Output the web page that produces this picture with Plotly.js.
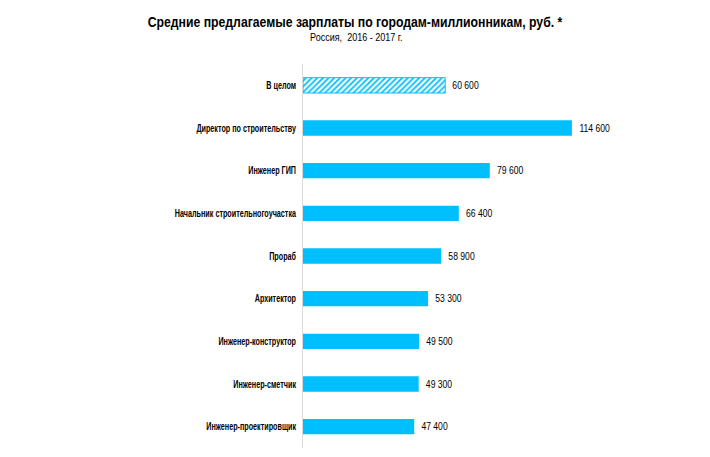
<!DOCTYPE html>
<html><head><meta charset="utf-8">
<script src="https://cdn.plot.ly/plotly-3.0.1.min.js"></script>
<style>html,body{margin:0;padding:0;background:#fff}#c{width:710px;height:457px}</style>
</head><body><div id="c"></div>
<script>
var categories = ["В целом","Директор по строительству","Инженер ГИП","Начальник строительногоучастка","Прораб","Архитектор","Инженер-конструктор","Инженер-сметчик","Инженер-проектировщик"];
var values = [60600,114600,79600,66400,58900,53300,49500,49300,47400];
var valueLabels = ["60 600","114 600","79 600","66 400","58 900","53 300","49 500","49 300","47 400"];
var hatched = [true,false,false,false,false,false,false,false,false];
var titleText = "Средние предлагаемые зарплаты по городам-миллионникам, руб. *";
var subtitleText = "Россия,  2016 - 2017 г.";

var blue = "#00BFFF";
var FONT = "Liberation Sans, Arial, sans-serif";
var trace = {
  type: "bar", orientation: "h",
  y: categories, x: values,
  text: valueLabels, textposition: "outside", cliponaxis: false,
  textfont: {family: FONT, size: 10, color: "#000"},
  width: 0.36,
  marker: {
    color: blue,
    line: {color: blue, width: hatched.map(function(h){return h ? 1 : 0;})},
    pattern: {
      shape: hatched.map(function(h){return h ? "/" : "";}),
      fillmode: "replace",
      bgcolor: "#ffffff", size: 4, solidity: 0.45
    }
  },
  hoverinfo: "skip"
};
var layout = {
  width: 710, height: 457,
  margin: {l: 303, r: 55, t: 64, b: 9},
  paper_bgcolor: "#fff", plot_bgcolor: "#fff",
  showlegend: false,
  title: {
    text: "<b>" + titleText + "</b>",
    x: 0.5, xref: "container", xanchor: "center", y: 0.952, yanchor: "middle",
    font: {family: FONT, size: 15, color: "#000"}
  },
  annotations: [{
    text: subtitleText, xref: "paper", yref: "paper", x: 0.1506, y: 1.0, yshift: 27,
    xanchor: "center", yanchor: "middle", showarrow: false,
    font: {family: FONT, size: 10, color: "#000"}
  }],
  xaxis: {range: [0,150000], visible: false, fixedrange: true, domain: [0,1]},
  yaxis: {
    autorange: "reversed", showgrid: false, zeroline: false,
    showline: true, linecolor: "#d9d9d9", linewidth: 1,
    ticks: "", ticklen: 0,
    tickfont: {family: FONT, size: 10, color: "#000", weight: "bold"},
    ticklabelstandoff: 4
  },
  bargap: 0.6
};
function squeeze(el, f){
  try {
    var w = el.getComputedTextLength();
    el.setAttribute("textLength", (w*f).toFixed(1));
    el.setAttribute("lengthAdjust", "spacingAndGlyphs");
  } catch(e){}
}
Plotly.newPlot("c", [trace], layout, {displayModeBar: false, staticPlot: true}).then(function(gd){
  gd.querySelectorAll(".ytick text").forEach(function(t){ squeeze(t, 0.72); });
  gd.querySelectorAll(".gtitle").forEach(function(t){ squeeze(t, 0.815); });
  gd.querySelectorAll(".annotation-text").forEach(function(t){ squeeze(t, 0.9); });
  gd.querySelectorAll(".bartext text, text.bartext").forEach(function(t){
    squeeze(t, 0.86);
    var x = parseFloat(t.getAttribute("x"));
    if (!isNaN(x)) t.setAttribute("x", x + 2);
  });
});
</script></body></html>
